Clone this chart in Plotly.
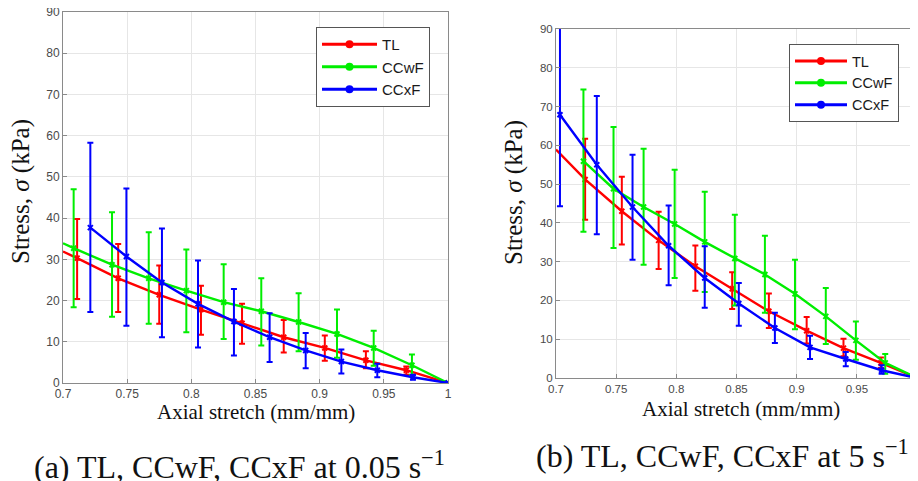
import plotly.graph_objects as go

# ---------------- data: panel (a) 0.05 s^-1 ----------------
tl1_x = [0.711, 0.743, 0.775, 0.8075, 0.8395, 0.872, 0.904, 0.936, 0.9675, 1.0]
tl1_y = [30.3, 25.4, 21.4, 17.8, 14.5, 11.1, 8.5, 5.5, 3.1, 0]
tl1_hi = [39.8, 33.7, 28.5, 23.6, 19.2, 15.3, 11.5, 7.7, 4.0, 0]
tl1_lo = [20.4, 17.2, 14.4, 11.7, 9.5, 7.4, 5.4, 3.6, 2.0, 0]
tl1_fit_x = [0.7] + tl1_x
tl1_fit_y = [31.9] + tl1_y

g1_x = [0.7083, 0.7382, 0.7668, 0.7961, 0.8252, 0.8545, 0.8836, 0.9135, 0.9421, 0.9719, 1.0]
g1_y = [32.7, 28.7, 25.4, 22.4, 19.6, 17.4, 14.8, 11.9, 8.5, 4.3, 0]
g1_hi = [47.0, 41.4, 36.6, 32.4, 28.8, 25.4, 21.8, 17.8, 12.7, 6.9, 0]
g1_lo = [18.4, 16.1, 14.4, 12.3, 10.7, 9.1, 7.7, 6.1, 4.2, 2.0, 0]
g1_fit_x = [0.7] + g1_x
g1_fit_y = [33.9] + g1_y

b1_x = [0.7213, 0.7494, 0.7771, 0.8052, 0.8332, 0.8610, 0.8891, 0.9169, 0.9449, 0.9727, 1.0]
b1_y = [37.7, 30.7, 24.4, 19.2, 14.9, 11.1, 7.9, 5.2, 3.1, 1.4, 0]
b1_hi = [58.3, 47.2, 37.5, 29.7, 22.8, 16.9, 12.1, 8.1, 4.7, 2.0, 0]
b1_lo = [17.2, 13.9, 11.1, 8.6, 6.7, 5.1, 3.6, 2.3, 1.4, 0.8, 0]
b1_fit_x = b1_x
b1_fit_y = b1_y

# ---------------- data: panel (b) 5 s^-1 ----------------
tl2_x = [0.7242, 0.7547, 0.7853, 0.8158, 0.8464, 0.8769, 0.9083, 0.9389, 0.97, 1.0]
tl2_y = [51.2, 43.0, 35.5, 28.8, 23.0, 17.2, 12.2, 7.7, 3.9, 0]
tl2_hi = [61.7, 51.9, 42.9, 34.2, 27.3, 21.8, 15.7, 10.1, 5.3, 0]
tl2_lo = [40.8, 34.4, 28.1, 22.5, 17.8, 12.9, 8.9, 5.6, 2.6, 0]
tl2_fit_x = [0.7] + tl2_x
tl2_fit_y = [58.9] + tl2_y

g2_x = [0.7228, 0.7478, 0.7728, 0.7986, 0.8236, 0.8486, 0.8736, 0.8986, 0.9242, 0.9492, 0.9736, 1.0]
g2_y = [55.9, 48.8, 44.1, 39.7, 35.1, 30.8, 26.7, 21.7, 15.9, 9.7, 3.9, 0]
g2_hi = [74.4, 64.7, 59.1, 53.7, 48.0, 42.1, 36.7, 30.5, 23.2, 14.6, 6.2, 0]
g2_lo = [37.7, 33.5, 29.2, 25.8, 22.2, 18.7, 16.8, 12.6, 8.8, 4.7, 1.1, 0]
g2_fit_x = g2_x
g2_fit_y = g2_y

b2_x = [0.7033, 0.7339, 0.7636, 0.7936, 0.8236, 0.8519, 0.8819, 0.9111, 0.9408, 0.9706, 1.0]
b2_y = [67.9, 55.0, 44.1, 34.1, 25.8, 19.2, 12.9, 7.9, 4.9, 2.0, 0]
b2_hi = [92.0, 72.7, 57.6, 44.5, 34.0, 24.5, 16.8, 10.9, 6.7, 3.3, 0]
b2_lo = [44.3, 37.1, 30.5, 23.9, 18.1, 13.5, 9.0, 4.9, 3.0, 1.1, 0]
b2_fit_x = b2_x
b2_fit_y = b2_y

series_names = ["TL", "CCwF", "CCxF"]
x_tickvals = [0.7, 0.75, 0.8, 0.85, 0.9, 0.95, 1.0]
x_ticktext = ["0.7", "0.75", "0.8", "0.85", "0.9", "0.95", "1"]
y_tickvals = [0, 10, 20, 30, 40, 50, 60, 70, 80, 90]
x_title = "Axial stretch (mm/mm)"
y_title = "Stress, <i>σ</i> (kPa)"
caption_a = "(a) TL, CCwF, CCxF at 0.05 s<sup>−1</sup>"
caption_b = "(b) TL, CCwF, CCxF at 5 s<sup>−1</sup>"

colors = ["#ff0000", "#00ee00", "#0000ff"]

# page offset (default body margin) and figure size
OX, OY = 8, 8
W, H = 910, 473


def fx_(px):
    return (px - OX) / W


def fy_(py):
    return 1 - (py - OY) / H


fig = go.Figure()

panels = [
    ("x", "y", "legend",
     [(tl1_x, tl1_y, tl1_hi, tl1_lo, tl1_fit_x, tl1_fit_y),
      (g1_x, g1_y, g1_hi, g1_lo, g1_fit_x, g1_fit_y),
      (b1_x, b1_y, b1_hi, b1_lo, b1_fit_x, b1_fit_y)]),
    ("x2", "y2", "legend2",
     [(tl2_x, tl2_y, tl2_hi, tl2_lo, tl2_fit_x, tl2_fit_y),
      (g2_x, g2_y, g2_hi, g2_lo, g2_fit_x, g2_fit_y),
      (b2_x, b2_y, b2_hi, b2_lo, b2_fit_x, b2_fit_y)]),
]

for xa, ya, lg, sers in panels:
    for i, (sx, sy, shi, slo, cx, cy) in enumerate(sers):
        c = colors[i]
        fig.add_trace(go.Scatter(
            x=cx, y=cy, mode="lines", xaxis=xa, yaxis=ya,
            line=dict(color=c, width=2.4), showlegend=False, hoverinfo="skip"))
        fig.add_trace(go.Scatter(
            x=sx, y=sy, mode="markers", xaxis=xa, yaxis=ya,
            marker=dict(color=c, symbol="x-thin", size=5,
                        line=dict(color=c, width=2)),
            error_y=dict(type="data", symmetric=False,
                         array=[h - v for h, v in zip(shi, sy)],
                         arrayminus=[v - l for v, l in zip(sy, slo)],
                         color=c, thickness=2, width=3),
            showlegend=False))
        fig.add_trace(go.Scatter(
            x=[None], y=[None], mode="lines+markers", xaxis=xa, yaxis=ya,
            name=series_names[i], legend=lg,
            line=dict(color=c, width=3),
            marker=dict(color=c, symbol="circle", size=8)))


def axis_style(fs):
    return dict(showgrid=True, gridcolor="#e6e6e6", gridwidth=1,
                showline=True, linecolor="#8a8a8a", linewidth=1, mirror=True,
                ticks="inside", ticklen=4, tickcolor="#8a8a8a",
                tickfont=dict(family="Liberation Sans, Arial", size=fs, color="#4a4a4a"),
                zeroline=False, automargin=False, ticklabeloverflow="allow")


fig.update_layout(
    width=W, height=H,
    margin=dict(l=0, r=0, t=0, b=0),
    paper_bgcolor="white", plot_bgcolor="white",
    xaxis=dict(domain=[fx_(63), fx_(448)], range=[0.7, 1.0], anchor="y",
               tickvals=x_tickvals, ticktext=x_ticktext, **axis_style(12)),
    yaxis=dict(domain=[fy_(383), fy_(12)], range=[0, 90], anchor="x",
               tickvals=y_tickvals, **axis_style(12)),
    xaxis2=dict(domain=[fx_(556), min(1.0, fx_(917))], range=[0.7, 1.0], anchor="y2",
                tickvals=x_tickvals, ticktext=x_ticktext, **axis_style(11.5)),
    yaxis2=dict(domain=[fy_(378), fy_(29)], range=[0, 90], anchor="x2",
                tickvals=y_tickvals, **axis_style(11.5)),
    legend=dict(x=fx_(316), y=fy_(27), xanchor="left", yanchor="top",
                bgcolor="white", bordercolor="#555", borderwidth=1,
                font=dict(family="Liberation Sans, Arial", size=15, color="#1a1a1a"),
                tracegroupgap=0, itemwidth=55),
    legend2=dict(x=fx_(789), y=fy_(44), xanchor="left", yanchor="top",
                 bgcolor="white", bordercolor="#555", borderwidth=1,
                 font=dict(family="Liberation Sans, Arial", size=14.5, color="#1a1a1a"),
                 tracegroupgap=0, itemwidth=52),
)

serif = "Liberation Serif, Times New Roman, serif"
annots = [
    dict(text=x_title, x=fx_(256), y=fy_(412), size=21),
    dict(text=x_title, x=fx_(741), y=fy_(409), size=21),
    dict(text=y_title, x=fx_(21), y=fy_(192), textangle=-90, size=25),
    dict(text=y_title, x=fx_(514), y=fy_(193), textangle=-90, size=25),
    dict(text=caption_a, x=fx_(240), y=fy_(465), size=32),
    dict(text=caption_b, x=fx_(534), y=fy_(454), xanchor="left", size=32),
]
for a in annots:
    size = a.pop("size")
    a.setdefault("xanchor", "center")
    a["yanchor"] = "middle"
    a["xref"] = "paper"
    a["yref"] = "paper"
    a["showarrow"] = False
    a["font"] = dict(family=serif, color="#111", size=size)
    fig.add_annotation(**a)

fig.write_html("out.html")
